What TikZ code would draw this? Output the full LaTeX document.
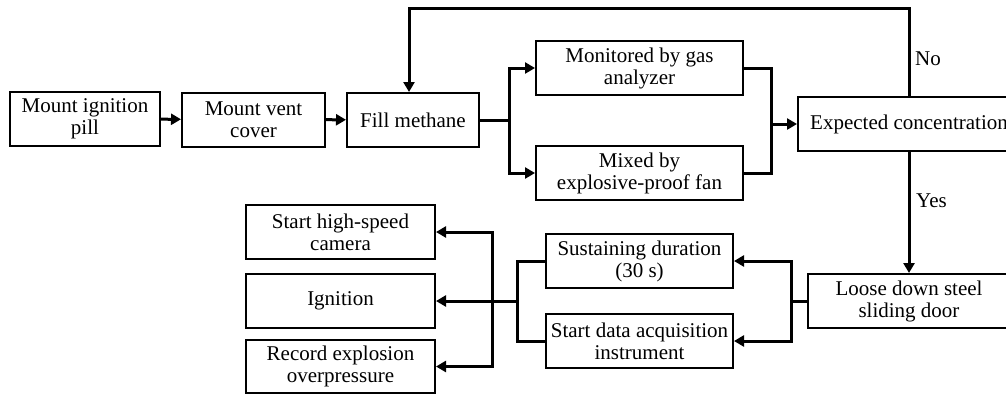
\documentclass[tikz,border=0pt]{standalone}
\usepackage{fontspec}
\setmainfont{Liberation Serif}
\usetikzlibrary{arrows.meta}
\begin{document}
\begin{tikzpicture}[x=1pt,y=-1pt,
  box/.style={draw,line width=2pt,minimum height=54pt,inner sep=1pt,align=center,
    font=\fontsize{21}{22}\selectfont},
  arr/.style={line width=3pt,-{Triangle[length=10pt,width=11pt]}},
  ln/.style={line width=3pt},
  lab/.style={anchor=west,inner sep=0pt,font=\fontsize{21}{22}\selectfont}]
\useasboundingbox (0,0) rectangle (1006,394);
\clip (0,0) rectangle (1006,394);
\node[box,minimum width=150pt] (A) at (85,119) {Mount ignition\\pill};
\node[box,minimum width=143pt] (B) at (253.5,119.5) {Mount vent\\cover};
\node[box,minimum width=132pt] (C) at (413,120) {Fill methane};
\node[box,minimum width=207pt] (D) at (639.5,68) {Monitored by gas\\analyzer};
\node[box,minimum width=207pt] (E) at (639.5,173) {Mixed by\\explosive-proof fan};
\node[box,minimum width=222pt] (F) at (909,124) {Expected concentration};
\node[box,minimum width=202pt] (G) at (909,301) {Loose down steel\\sliding door};
\node[box,minimum width=187pt] (H) at (639.5,261) {Sustaining duration\\(30 s)};
\node[box,minimum width=187pt] (I) at (639.5,341) {Start data acquisition\\instrument};
\node[box,minimum width=189pt] (J) at (340.5,232) {Start high-speed\\camera};
\node[box,minimum width=189pt] (K) at (340.5,301) {Ignition};
\node[box,minimum width=189pt,minimum height=53pt] (L) at (340.5,366.5) {Record explosion\\overpressure};
\node[lab] (no) at (915,59) {No};
\node[lab] (yes) at (916,201) {Yes};
\coordinate (f1) at (509,120);
\coordinate (m1) at (771,124);
\coordinate (top) at (409,8);
\coordinate (f2) at (791,301);
\coordinate (m2) at (517,301);
\coordinate (f3) at (492,301);
\draw[arr] (A) -- (B);
\draw[arr] (B) -- (C);
\draw[ln] (C.east) -- (f1);
\draw[arr] (f1) |- (D.west);
\draw[arr] (f1) |- (E.west);
\draw[ln] (D.east) -| (m1);
\draw[ln] (E.east) -| (m1);
\draw[arr] (m1) -- (F.west);
\draw[arr] (F.north) |- (top) -- (top |- C.north);
\draw[arr] (F.south) -- (G.north);
\draw[ln] (G.west) -- (f2);
\draw[arr] (f2) |- (H.east);
\draw[arr] (f2) |- (I.east);
\draw[ln] (H.west) -| (m2);
\draw[ln] (I.west) -| (m2);
\draw[ln] (m2) -- (f3);
\draw[arr] (f3) |- (J.east);
\draw[arr] (f3) -- (K.east);
\draw[arr] (f3) |- (L.east);
\end{tikzpicture}
\end{document}
